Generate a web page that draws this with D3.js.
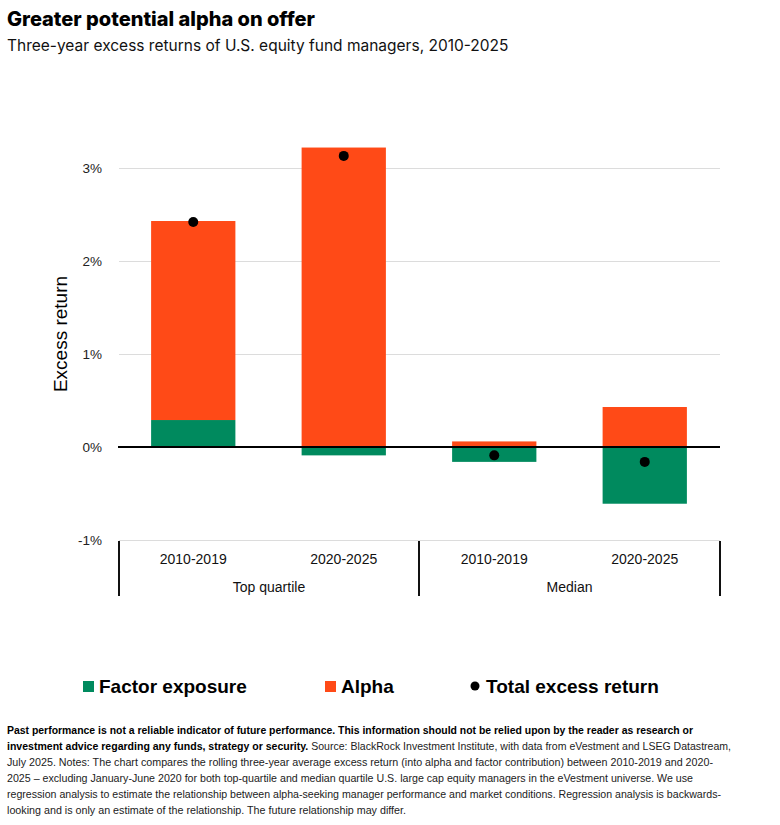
<!DOCTYPE html>
<html>
<head>
<meta charset="utf-8">
<script src="https://cdn.jsdelivr.net/npm/d3@7"></script>
<style>
  body { margin: 0; background: #fff; }
  svg { display: block; }
</style>
</head>
<body>
<div id="chart"></div>
<script>
// data
var groups = ["Top quartile", "Median"];
var periods = ["2010-2019", "2020-2025", "2010-2019", "2020-2025"];
var barGroup = [0, 0, 1, 1];
var factorExposure = [0.29, -0.09, -0.16, -0.61];
var alpha = [2.14, 3.22, 0.06, 0.43];
var totalExcess = [2.42, 3.13, -0.09, -0.16];
var yTicks = [-1, 0, 1, 2, 3];

var footLines = [
  [{b: true, t: "Past performance is not a reliable indicator of future performance. This information should not be relied upon by the reader as research or"}],
  [{b: true, t: "investment advice regarding any funds, strategy or security."}, {b: false, t: " Source: BlackRock Investment Institute, with data from eVestment and LSEG Datastream,"}],
  [{b: false, t: "July 2025. Notes: The chart compares the rolling three-year average excess return (into alpha and factor contribution) between 2010-2019 and 2020-"}],
  [{b: false, t: "2025 \u2013 excluding January-June 2020 for both top-quartile and median quartile U.S. large cap equity managers in the eVestment universe. We use"}],
  [{b: false, t: "regression analysis to estimate the relationship between alpha-seeking manager performance and market conditions. Regression analysis is backwards-"}],
  [{b: false, t: "looking and is only an estimate of the relationship. The future relationship may differ."}]
];
var footWidths = [686, 724, 706, 686, 714, 399];

var width = 780, height = 825;
var green = "#008A5E", orange = "#FF4A17";
var sans = "Arial, 'Liberation Sans', sans-serif";
var narrow = "'Liberation Sans Narrow', 'Arial Narrow', 'Liberation Sans', sans-serif";

var svg = d3.select("#chart").append("svg")
  .attr("width", width)
  .attr("height", height);

// title block
svg.append("text")
  .attr("x", 7).attr("y", 26)
  .attr("font-family", "Inter, 'Noto Sans', sans-serif")
  .attr("font-weight", 800)
  .attr("font-size", 20)
  .attr("fill", "#000")
  .text("Greater potential alpha on offer");

svg.append("text")
  .attr("x", 7).attr("y", 51)
  .attr("font-family", "Inter, 'Noto Sans', sans-serif")
  .attr("font-size", 15.5)
  .attr("fill", "#111")
  .text("Three-year excess returns of U.S. equity fund managers, 2010-2025");

// scales
var x = d3.scaleBand()
  .domain(d3.range(periods.length))
  .range([118, 720])
  .paddingInner(0.44)
  .paddingOuter(0.22);

var y = d3.scaleLinear()
  .domain([-1, 3])
  .range([540, 168]);

// gridlines + tick labels
var yAxis = d3.axisLeft(y)
  .tickValues(yTicks)
  .tickSize(-(720 - 119))
  .tickPadding(17)
  .tickFormat(function(d){ return d + "%"; });

var gy = svg.append("g")
  .attr("transform", "translate(119,0)")
  .call(yAxis);
gy.select(".domain").remove();
gy.selectAll(".tick line").attr("stroke", "#dcdcdc").attr("stroke-width", 1.2);
gy.selectAll(".tick text")
  .attr("font-family", sans)
  .attr("font-size", 13.5)
  .attr("fill", "#222");

svg.append("text")
  .attr("transform", "translate(67," + 334 + ") rotate(-90)")
  .attr("text-anchor", "middle")
  .attr("font-family", sans)
  .attr("font-size", 19)
  .attr("fill", "#000")
  .text("Excess return");

// bars: factor exposure from zero, alpha stacked from zero upwards
var bars = svg.append("g");
bars.selectAll(".factor")
  .data(factorExposure)
  .enter().append("rect")
  .attr("class", "factor")
  .attr("x", function(d, i){ return x(i); })
  .attr("width", x.bandwidth())
  .attr("y", function(d){ return y(Math.max(0, d)); })
  .attr("height", function(d){ return Math.abs(y(d) - y(0)); })
  .attr("fill", green);

bars.selectAll(".alpha")
  .data(alpha)
  .enter().append("rect")
  .attr("class", "alpha")
  .attr("x", function(d, i){ return x(i); })
  .attr("width", x.bandwidth())
  .attr("y", function(d, i){
    var base = Math.max(0, factorExposure[i]);
    return y(base + d);
  })
  .attr("height", function(d){ return y(0) - y(d); })
  .attr("fill", orange);

// zero line
svg.append("line")
  .attr("x1", 118).attr("x2", 720)
  .attr("y1", y(0)).attr("y2", y(0))
  .attr("stroke", "#000")
  .attr("stroke-width", 2.2);

// total excess return dots
svg.selectAll(".dot")
  .data(totalExcess)
  .enter().append("circle")
  .attr("cx", function(d, i){ return x(i) + x.bandwidth() / 2; })
  .attr("cy", function(d){ return y(d); })
  .attr("r", 5)
  .attr("fill", "#000");

// category axis
var catAxis = svg.append("g");
catAxis.selectAll(".period")
  .data(periods)
  .enter().append("text")
  .attr("x", function(d, i){ return x(i) + x.bandwidth() / 2; })
  .attr("y", 564)
  .attr("text-anchor", "middle")
  .attr("font-family", sans)
  .attr("font-size", 14)
  .attr("fill", "#111")
  .text(function(d){ return d; });

var groupSpan = groups.map(function(g, gi){
  var idx = d3.range(periods.length).filter(function(i){ return barGroup[i] === gi; });
  var first = idx[0], last = idx[idx.length - 1];
  var left = gi === 0 ? 119 : (x(first - 1) + x.bandwidth() + x(first)) / 2;
  var right = gi === groups.length - 1 ? 720 : (x(last) + x.bandwidth() + x(last + 1)) / 2;
  return {name: g, left: left, right: right};
});

catAxis.selectAll(".group")
  .data(groupSpan)
  .enter().append("text")
  .attr("x", function(d){ return (d.left + d.right) / 2; })
  .attr("y", 592)
  .attr("text-anchor", "middle")
  .attr("font-family", sans)
  .attr("font-size", 14)
  .attr("fill", "#111")
  .text(function(d){ return d.name; });

var seps = [groupSpan[0].left].concat(groupSpan.map(function(d){ return d.right; }));
catAxis.selectAll(".sep")
  .data(seps)
  .enter().append("line")
  .attr("x1", function(d){ return d; }).attr("x2", function(d){ return d; })
  .attr("y1", 541).attr("y2", 596)
  .attr("stroke", "#111")
  .attr("stroke-width", 2);

// legend
var legend = svg.append("g").attr("font-family", sans).attr("font-weight", "bold").attr("font-size", 19);
var items = [
  {label: "Factor exposure", x: 83, kind: "rect", color: green},
  {label: "Alpha", x: 325, kind: "rect", color: orange},
  {label: "Total excess return", x: 470, kind: "dot", color: "#000"}
];
items.forEach(function(it){
  if (it.kind === "rect") {
    legend.append("rect")
      .attr("x", it.x).attr("y", 681)
      .attr("width", 11).attr("height", 11)
      .attr("fill", it.color);
  } else {
    legend.append("circle")
      .attr("cx", it.x + 5).attr("cy", 686)
      .attr("r", 4.5)
      .attr("fill", it.color);
  }
  legend.append("text")
    .attr("x", it.x + 16).attr("y", 693)
    .attr("fill", "#000")
    .text(it.label);
});

// footnote
var foot = svg.append("g")
  .attr("font-family", narrow)
  .attr("font-size", 11)
  .attr("fill", "#111");
footLines.forEach(function(parts, li){
  var t = foot.append("text")
    .attr("x", 7)
    .attr("y", 734 + li * 16);
  if (footWidths[li]) {
    t.attr("textLength", footWidths[li]).attr("lengthAdjust", "spacingAndGlyphs");
  }
  parts.forEach(function(p){
    t.append("tspan")
      .attr("font-weight", p.b ? "bold" : "normal")
      .attr("fill", p.b ? "#000" : "#222")
      .text(p.t);
  });
});
</script>
</body>
</html>
